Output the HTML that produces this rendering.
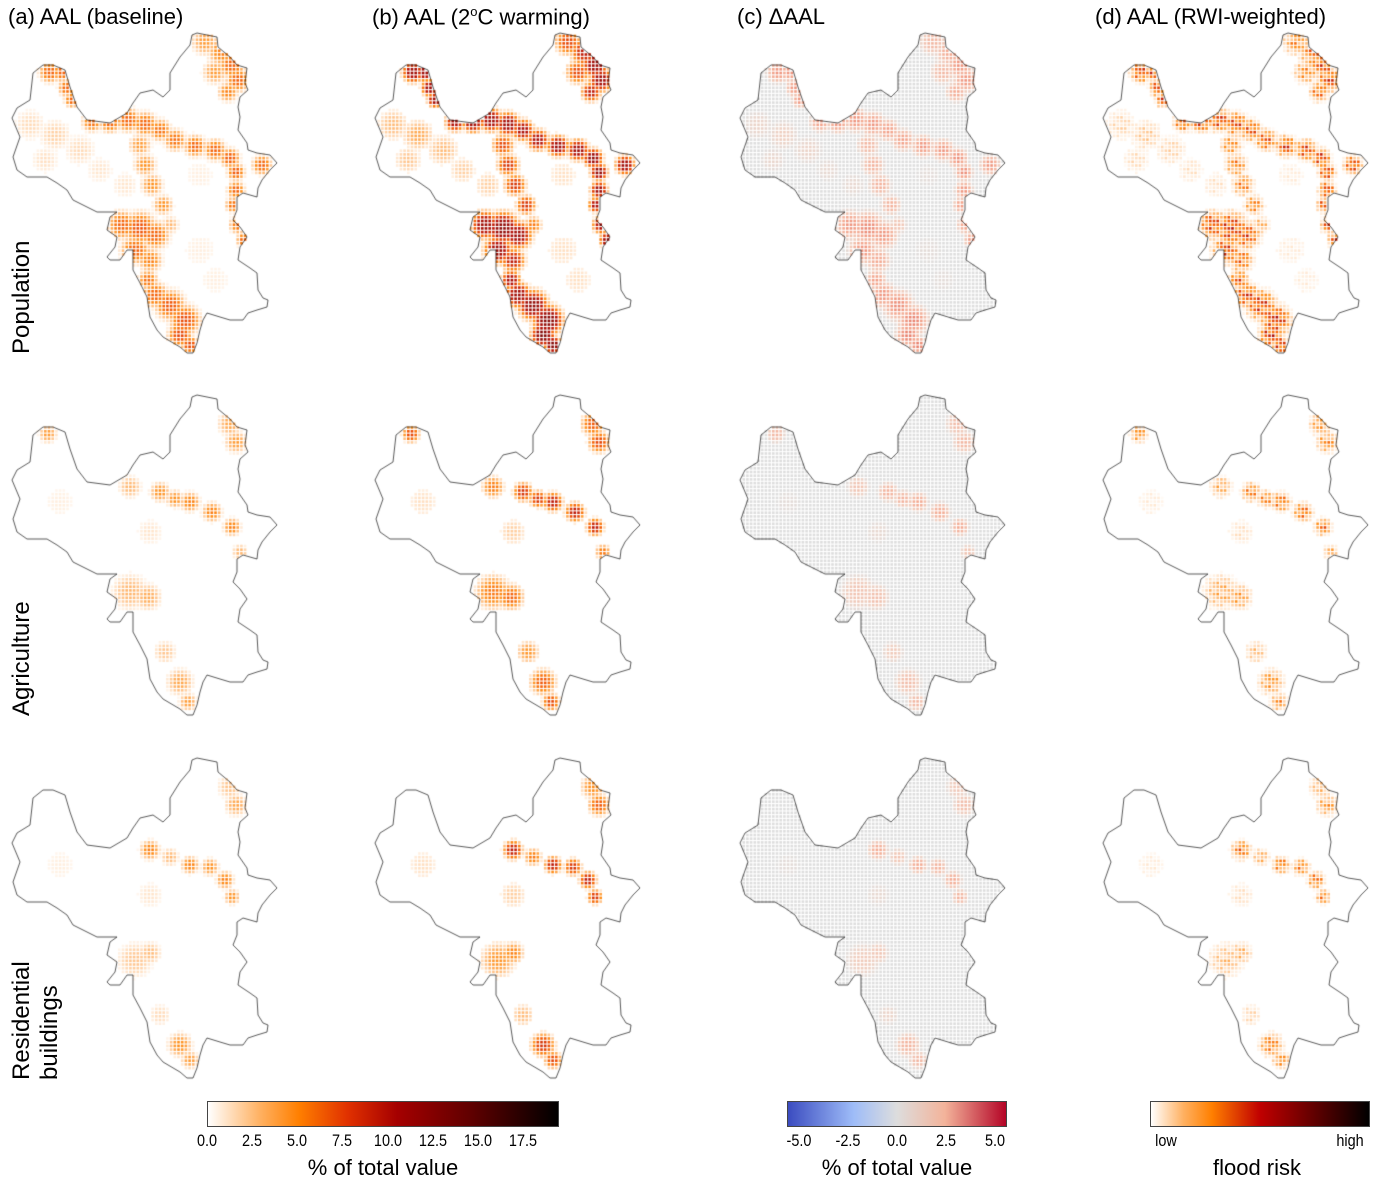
<!DOCTYPE html>
<html><head><meta charset="utf-8">
<style>
body{margin:0;background:#fff;width:1377px;height:1183px;overflow:hidden;position:relative;font-family:"Liberation Sans",sans-serif;}
.t{position:absolute;font-size:22px;color:#000;white-space:nowrap;}
.rl{position:absolute;font-size:24px;transform:rotate(-90deg);transform-origin:left top;white-space:nowrap;line-height:28px;}
.tk{position:absolute;font-size:17px;transform:translateX(-50%) scaleX(0.85);top:1131px;}
.ct{position:absolute;font-size:22px;transform:translateX(-50%);top:1155px;white-space:nowrap;}
.cb{position:absolute;top:1101px;height:26px;border:1px solid #444;box-sizing:border-box;}
canvas{position:absolute;left:0;top:0;}
</style></head><body>
<canvas id="cv" width="1377" height="1183"></canvas>
<div class="t" style="left:8px;top:4px">(a) AAL (baseline)</div>
<div class="t" style="left:372px;top:4px">(b) AAL (2<sup style="font-size:13px">o</sup>C warming)</div>
<div class="t" style="left:737px;top:4px">(c) ΔAAL</div>
<div class="t" style="left:1095px;top:4px">(d) AAL (RWI-weighted)</div>
<div class="rl" style="left:8px;top:354px">Population</div>
<div class="rl" style="left:8px;top:716px">Agriculture</div>
<div class="rl" style="left:8px;top:1080px">Residential<br>buildings</div>
<div class="cb" style="left:207px;width:352px;background:linear-gradient(to right,#fff,#ffb060 15%,#ff7f00 26%,#e03000 40%,#a50000 54%,#600000 75%,#000)"></div>
<div class="cb" style="left:787px;width:220px;background:linear-gradient(to right,#3b4cc0,#9ebcf8 30%,#dddddd 50%,#f3b39a 72%,#b40426)"></div>
<div class="cb" style="left:1150px;width:220px;background:linear-gradient(to right,#fff,#ffb060 15%,#ff7f00 28%,#c00000 50%,#600000 75%,#000)"></div>
<div id="ticks"></div>
<div class="ct" style="left:383px">% of total value</div>
<div class="ct" style="left:897px">% of total value</div>
<div class="ct" style="left:1257px">flood risk</div>
<div class="tk" style="left:1166px">low</div>
<div class="tk" style="left:1350px">high</div>
<script>
const aalTicks=[0,2.5,5,7.5,10,12.5,15,17.5];
const deltaTicks=[-5,-2.5,0,2.5,5];
// hotspots: [x, y, radius, intensity(0..1 of 19.5%)] in panel-a row-1 coordinates
const popHot=[[205,42,12,0.2],[222,52,13,0.25],[232,65,12,0.3],[238,80,11,0.3],[215,72,11,0.2],[228,92,9,0.25],
[50,72,10,0.3],[62,72,9,0.3],[67,88,8,0.3],[72,100,7,0.3],
[92,122,9,0.28],[110,122,10,0.3],[128,120,11,0.3],[145,124,11,0.3],[160,130,10,0.28],[175,140,10,0.28],[195,146,10,0.3],[215,150,10,0.3],[230,158,9,0.32],[236,172,8,0.32],[236,190,8,0.3],[233,205,7,0.28],[238,225,8,0.28],[244,240,7,0.3],[262,165,9,0.3],
[140,145,10,0.2],[145,165,10,0.22],[152,185,10,0.22],[163,205,9,0.22],[170,225,8,0.15],
[122,225,13,0.3],[140,228,15,0.33],[155,235,13,0.3],[135,250,13,0.3],[150,260,11,0.25],
[148,280,9,0.28],[155,295,12,0.3],[170,305,14,0.32],[185,320,14,0.34],[180,335,11,0.35],[190,345,8,0.35],
[30,125,14,0.08],[55,135,14,0.1],[80,150,14,0.08],[45,160,12,0.07],[100,170,12,0.06],[125,185,12,0.06],[200,175,14,0.04],[200,250,16,0.04],[215,280,14,0.04]];
const agrHot=[[230,62,11,0.18],[236,80,10,0.2],[48,72,8,0.2],[130,125,10,0.15],[160,130,9,0.22],[175,137,8,0.22],[190,140,9,0.25],[212,150,9,0.25],[232,165,8,0.25],[240,190,7,0.15],[130,230,16,0.15],[148,235,12,0.17],[165,290,10,0.12],[180,320,12,0.18],[188,340,8,0.2],[150,170,12,0.06],[60,140,14,0.04]];
const resHot=[[230,62,11,0.13],[236,80,10,0.18],[150,125,9,0.25],[170,132,8,0.15],[190,140,8,0.25],[210,142,8,0.22],[225,155,8,0.25],[232,172,7,0.22],[135,235,16,0.12],[150,228,10,0.14],[160,290,10,0.08],[180,320,11,0.22],[190,335,8,0.2],[150,170,12,0.06],[60,140,14,0.04]];
const rows=[popHot,agrHot,resHot];
const outline=[[192,35],[197,33],[217,37],[218,47],[230,57],[237,65],[247,68],[245,83],[248,90],[240,97],[238,107],[240,117],[238,130],[247,143],[248,150],[257,153],[270,155],[277,163],[270,170],[262,180],[258,188],[257,197],[243,193],[237,197],[237,210],[233,220],[240,227],[247,237],[240,247],[238,260],[250,268],[257,273],[258,290],[263,298],[268,300],[267,307],[257,310],[248,313],[243,320],[230,320],[220,317],[207,313],[203,320],[200,330],[197,343],[193,353],[187,353],[180,347],[163,337],[157,330],[150,317],[147,297],[140,283],[133,270],[133,250],[127,250],[120,260],[110,260],[107,257],[115,247],[117,237],[107,230],[110,217],[117,212],[97,212],[87,207],[73,200],[67,190],[57,183],[47,177],[27,177],[17,170],[13,157],[20,137],[12,118],[17,108],[30,100],[33,73],[43,65],[53,65],[65,70],[70,87],[77,107],[87,120],[110,123],[127,113],[133,103],[140,93],[153,90],[163,97],[170,90],[170,73],[180,57],[190,45]];
const colX=[0,363,728,1091], rowY=[0,362,725];

const tk=document.getElementById('ticks');
function xa(v){return 207+(v/19.5)*352;}
function xd(v){return 897+(v/5.6)*110;}
aalTicks.forEach(v=>{const d=document.createElement('div');d.className='tk';d.style.left=xa(v)+'px';d.textContent=v.toFixed(1);


tk.appendChild(d);});
deltaTicks.forEach(v=>{const d=document.createElement('div');d.className='tk';d.style.left=xd(v)+'px';d.textContent=v.toFixed(1);


tk.appendChild(d);});

function lerp(stops,t){t=Math.max(0,Math.min(1,t));for(let i=1;i<stops.length;i++){if(t<=stops[i][0]){const a=stops[i-1],b=stops[i],f=(t-a[0])/(b[0]-a[0]||1);return 'rgb('+[1,2,3].map(k=>Math.round(a[k]+(b[k]-a[k])*f)).join(',')+')';}}const l=stops[stops.length-1];return 'rgb('+l[1]+','+l[2]+','+l[3]+')';}
const heat=[[0,255,255,255],[0.04,255,238,222],[0.12,255,196,140],[0.22,255,140,20],[0.32,240,80,0],[0.45,180,10,0],[0.7,96,0,0],[1,0,0,0]];
const div=[[0,221,221,221],[0.15,238,205,190],[0.45,243,165,140],[0.75,222,95,80],[1,180,4,38]];
function val(h,x,y){let v=0.012;for(const p of h){const dx=x-p[0],dy=y-p[1];const q=(dx*dx+dy*dy)/(p[2]*p[2]);v=Math.max(v,p[3]*Math.exp(-q*Math.sqrt(q)));}return v;}

const c=document.getElementById('cv').getContext('2d');
function path(ox,oy){c.beginPath();outline.forEach((p,i)=>{i?c.lineTo(p[0]+ox,p[1]+oy):c.moveTo(p[0]+ox,p[1]+oy);});c.closePath();}
const step=3.7;
for(let r=0;r<3;r++)for(let col=0;col<4;col++){
  const ox=colX[col],oy=rowY[r];
  path(0,0);
  for(let y=36;y<355;y+=step)for(let x=12;x<278;x+=step){
    if(!c.isPointInPath(x,y))continue;
    const v=val(rows[r],x,y);let color;
    if(col===0)color=lerp(heat,v);
    else if(col===1)color=lerp(heat,v*1.75);
    else if(col===2)color=lerp(div,Math.max(0,(v-0.02)*1.9));
    else{const w=v*(0.6+0.8*(((x*7+y*13)|0)%5)/4);color=lerp(heat,w);}
    if(col!==2&&v<0.02)continue;
    c.fillStyle=color;c.fillRect(x+ox-1.3,y+oy-1.3,2.6,2.6);
  }
  path(ox,oy);c.strokeStyle='#111';c.lineWidth=0.7;c.stroke();
}
</script>
</body></html>
